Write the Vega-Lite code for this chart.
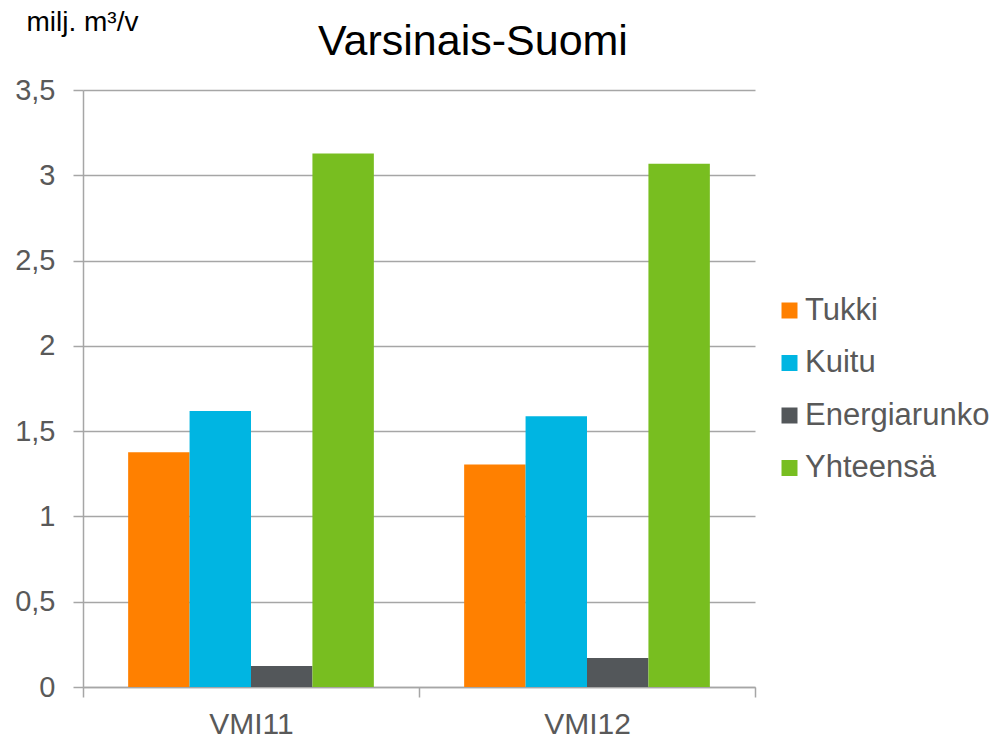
{
  "$schema": "https://vega.github.io/schema/vega-lite/v6.json",
  "autosize": {"type": "none"},
  "padding": {"left": 83, "top": 90, "right": 243, "bottom": 51},
  "width": 672,
  "height": 597,
  "background": "white",
  "config": {
    "font": "Liberation Sans",
    "view": {"stroke": null}
  },
  "title": {
    "text": "Varsinais-Suomi",
    "fontSize": 43,
    "font": "Liberation Sans",
    "fontWeight": "normal",
    "color": "#000000",
    "anchor": "middle",
    "baseline": "alphabetic",
    "dx": 54,
    "offset": -90
  },
  "data": {
    "values": [
      {"period": "VMI11", "series": "Tukki", "value": 1.376},
      {"period": "VMI11", "series": "Kuitu", "value": 1.618},
      {"period": "VMI11", "series": "Energiarunko", "value": 0.123},
      {"period": "VMI11", "series": "Yhteensä", "value": 3.128},
      {"period": "VMI12", "series": "Tukki", "value": 1.304},
      {"period": "VMI12", "series": "Kuitu", "value": 1.587},
      {"period": "VMI12", "series": "Energiarunko", "value": 0.17},
      {"period": "VMI12", "series": "Yhteensä", "value": 3.068}
    ]
  },
  "mark": {"type": "bar", "strokeWidth": 0},
  "encoding": {
    "x": {
      "field": "period",
      "type": "nominal",
      "scale": {"paddingInner": 0, "paddingOuter": 0},
      "axis": {
        "title": null,
        "labelAngle": 0,
        "labelFontSize": 30,
        "labelColor": "#595959",
        "labelPadding": 12,
        "tickBand": "extent",
        "tickSize": 10,
        "tickColor": "#A6A6A6",
        "tickWidth": 1.5,
        "domainColor": "#A6A6A6",
        "domainWidth": 1.5,
        "grid": false
      }
    },
    "xOffset": {
      "field": "series",
      "type": "nominal",
      "sort": ["Tukki", "Kuitu", "Energiarunko", "Yhteensä"],
      "scale": {"paddingInner": 0, "paddingOuter": 0.735}
    },
    "y": {
      "field": "value",
      "type": "quantitative",
      "scale": {"domain": [0, 3.5], "nice": false},
      "axis": {
        "values": [0, 0.5, 1, 1.5, 2, 2.5, 3, 3.5],
        "labelExpr": "replace(format(datum.value, ''), '.', ',')",
        "labelFontSize": 29,
        "labelColor": "#595959",
        "labelPadding": 18,
        "tickSize": 10,
        "tickColor": "#A6A6A6",
        "tickWidth": 1.5,
        "domainColor": "#A6A6A6",
        "domainWidth": 1.5,
        "gridColor": "#A6A6A6",
        "gridWidth": 1.5,
        "title": "milj. m³/v",
        "titleAngle": 0,
        "titleFontSize": 28,
        "titleFontWeight": "normal",
        "titleColor": "#000000",
        "titleAlign": "left",
        "titleBaseline": "alphabetic",
        "titleX": -57,
        "titleY": -60
      }
    },
    "color": {
      "field": "series",
      "type": "nominal",
      "sort": ["Tukki", "Kuitu", "Energiarunko", "Yhteensä"],
      "scale": {
        "domain": ["Tukki", "Kuitu", "Energiarunko", "Yhteensä"],
        "range": ["#FF8000", "#00B5E2", "#53575A", "#78BE20"]
      },
      "legend": {
        "title": null,
        "orient": "none",
        "legendX": 691,
        "legendY": 205,
        "padding": 0,
        "symbolType": "square",
        "symbolSize": 256,
        "symbolStrokeWidth": 0,
        "labelFontSize": 31,
        "labelColor": "#595959",
        "labelOffset": 0,
        "labelLimit": 300,
        "rowPadding": 20.5
      }
    }
  }
}
